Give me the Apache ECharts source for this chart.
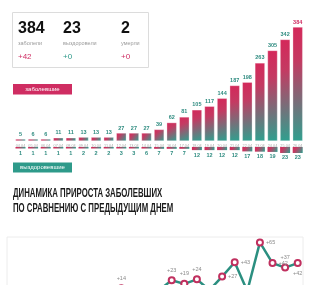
<!DOCTYPE html>
<html><head><meta charset="utf-8">
<script src="https://cdn.jsdelivr.net/npm/echarts@6/dist/echarts.min.js"></script>
<style>html,body{margin:0;padding:0;background:#fff;}#c{width:315px;height:285px;}</style>
</head><body><div id="c"></div>
<script>
var dates = ['04.04','05.04','06.04','07.04','08.04','09.04','10.04','11.04','12.04','13.04','14.04','15.04','16.04','17.04','18.04','19.04','20.04','21.04','22.04','23.04','24.04','25.04','26.04'];
var cases = [5,6,6,11,11,13,13,13,27,27,27,39,62,81,105,117,144,187,198,263,305,342,384];
var recovered = [1,1,1,1,1,2,2,2,3,3,6,7,7,7,12,12,12,12,17,18,19,23,23];
var increase = ['-',1,0,5,0,2,0,0,14,0,0,12,23,19,24,12,27,43,11,65,42,37,42];
var stats = [
  {value:'384', name:'заболели', delta:'+42'},
  {value:'23', name:'выздоровели', delta:'+0'},
  {value:'2', name:'умерли', delta:'+0'}
];
var titleLines = ['ДИНАМИКА ПРИРОСТА ЗАБОЛЕВШИХ','ПО СРАВНЕНИЮ С ПРЕДЫДУЩИМ ДНЕМ'];

var RED = '#cf2d62', TEAL = '#2e9a8a';
var CASE_H = 114, CASE_MAX = 384;
function grad(){
  return new echarts.graphic.LinearGradient(0,0,1,1,[
    {offset:0,color:'#d4285a'},{offset:0.3,color:'#c43a62'},{offset:1,color:'#2fa08f'}]);
}

var statX = [18, 63, 121];
var deltaColors = [RED, TEAL, RED];
var graphics = [
  {type:'rect', shape:{x:12.5,y:12.5,width:136,height:55}, style:{fill:'none',stroke:'#dcdcdc',lineWidth:1}},
  {type:'rect', shape:{x:13,y:84,width:59,height:10.5}, style:{fill:RED}},
  {type:'text', style:{text:'заболевшие', x:42.5, y:89.5, fill:'#fff', font:'6px "Liberation Sans"', textAlign:'center', textVerticalAlign:'middle'}},
  {type:'rect', shape:{x:13,y:162.5,width:59,height:10}, style:{fill:TEAL}},
  {type:'text', style:{text:'выздоровевшие', x:42.5, y:167.5, fill:'#fff', font:'6px "Liberation Sans"', textAlign:'center', textVerticalAlign:'middle'}},
  {type:'rect', shape:{x:7,y:237,width:296,height:70}, style:{fill:'none',stroke:'#ececec',lineWidth:1}}
];
stats.forEach(function(s,i){
  graphics.push({type:'text', style:{text:s.value, x:statX[i], y:28.5, fill:'#111', font:'bold 16px "Liberation Sans"', textVerticalAlign:'middle'}});
  graphics.push({type:'text', style:{text:s.name, x:statX[i], y:43.5, fill:'#9a9a9a', font:'5.5px "Liberation Sans"', textVerticalAlign:'middle'}});
  graphics.push({type:'text', style:{text:s.delta, x:statX[i], y:57, fill:deltaColors[i], font:'8px "Liberation Sans"', textVerticalAlign:'middle'}});
});
titleLines.forEach(function(t,i){
  graphics.push({type:'text', x:13, y:193.5+i*15, scaleX:0.578, scaleY:1,
    style:{text:t, x:0, y:0, fill:'#1a1a1a', font:'bold 13.5px "Liberation Sans"', textVerticalAlign:'middle'}});
});

var labelPos = {8:'top',11:'bottom',12:'top',13:'top',14:'top',15:'bottom',16:'right',17:'right',18:'bottom',19:'right',20:'right',21:'top',22:'bottom'};
var lineData = increase.map(function(v,i){
  var p = labelPos[i] || 'bottom';
  return {value:v, label:{position:p, distance: p==='right'?2:3}};
});

var chart = echarts.init(document.getElementById('c'), null, {renderer:'canvas'});
chart.setOption({
  animation:false,
  graphic: graphics,
  grid:[
    {left:14.2, right:11, top:27, height:CASE_H},
    {left:14.2, right:11, top:147, height:20},
    {left:14.2, right:11, top:237, bottom:0}
  ],
  xAxis:[
    {gridIndex:0, type:'category', data:dates, axisLine:{show:false}, axisTick:{show:false},
     axisLabel:{fontSize:3.8, color:'#a8a8a8', margin:2.5, interval:0}},
    {gridIndex:1, type:'category', data:dates, show:false},
    {gridIndex:2, type:'category', data:dates, show:false}
  ],
  yAxis:[
    {gridIndex:0, type:'value', min:0, max:CASE_MAX, show:false},
    {gridIndex:1, type:'value', min:0, max:77, inverse:true, show:false},
    {gridIndex:2, type:'value', min:17.7, max:71, show:false}
  ],
  series:[
    {type:'bar', xAxisIndex:0, yAxisIndex:0, data:cases.map(function(v,i){
        return {value:v, label:{color: i===cases.length-1 ? RED : '#2f8c80'}};
      }), barWidth:10, barMinHeight:2,
     itemStyle:{color:grad(), borderColor:'rgba(255,255,255,0.6)', borderWidth:0.5},
     label:{show:true, position:'top', fontSize:5.5, fontWeight:'bold', distance:2, fontFamily:'Liberation Sans'}},
    {type:'bar', xAxisIndex:1, yAxisIndex:1, data:recovered, barWidth:10, barMinHeight:1.5,
     itemStyle:{color:grad()},
     label:{show:true, position:'bottom', fontSize:5.5, fontWeight:'bold', color:'#2f8c80', distance:2, fontFamily:'Liberation Sans'}},
    {type:'line', xAxisIndex:2, yAxisIndex:2, data:lineData, symbol:'circle', symbolSize:6,
     clip:false,
     lineStyle:{color:'#2b8f80', width:2.5},
     itemStyle:{color:'#fff', borderColor:'#c0305f', borderWidth:2},
     label:{show:true, fontSize:5.5, color:'#8a8a8a', fontFamily:'Liberation Sans',
       formatter:function(p){return '+'+p.value;}}}
  ]
});
</script></body></html>
